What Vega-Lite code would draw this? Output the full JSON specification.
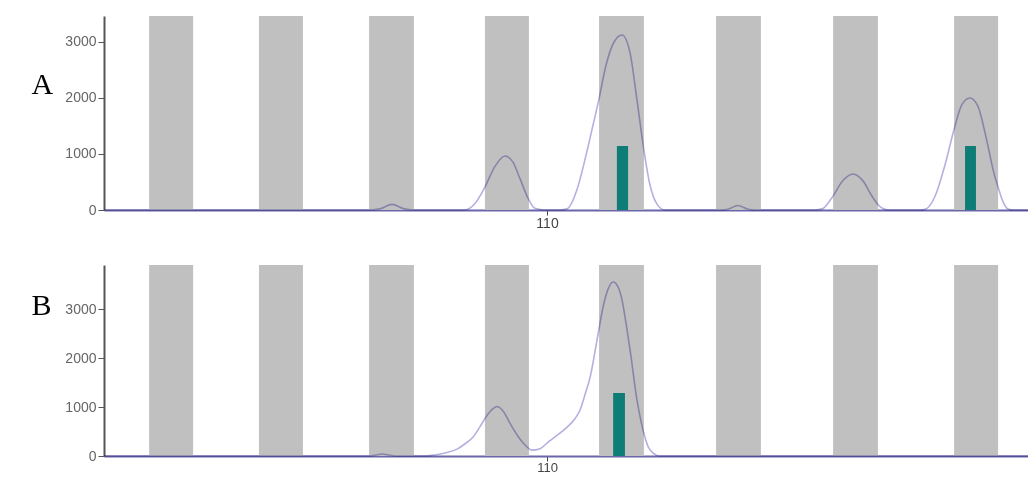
{
  "$schema": "https://vega.github.io/schema/vega-lite/v6.json",
  "padding": {"left": 31, "top": 16, "right": 0, "bottom": 0},
  "background": "white",
  "bounds": "flush",
  "spacing": 55,
  "config": {
    "view": {"stroke": null},
    "axis": {"grid": false, "labelFont": "Liberation Sans", "titleFont": "Liberation Serif"}
  },
  "datasets": {
    "bins": [
      {"start": 96.16, "end": 97.69},
      {"start": 99.98, "end": 101.51},
      {"start": 103.81, "end": 105.37},
      {"start": 107.84, "end": 109.37},
      {"start": 111.81, "end": 113.37},
      {"start": 115.88, "end": 117.44},
      {"start": 119.95, "end": 121.51},
      {"start": 124.16, "end": 125.69}
    ],
    "traceA": [
      {"size": 94.59, "rfu": 0}, {"size": 103.84, "rfu": 0}, {"size": 104.19, "rfu": 20},
      {"size": 104.61, "rfu": 100}, {"size": 105.03, "rfu": 20}, {"size": 105.37, "rfu": 0},
      {"size": 106.97, "rfu": 0}, {"size": 107.22, "rfu": 10}, {"size": 107.5, "rfu": 120},
      {"size": 107.84, "rfu": 410}, {"size": 108.19, "rfu": 780}, {"size": 108.54, "rfu": 965},
      {"size": 108.82, "rfu": 850}, {"size": 109.06, "rfu": 560}, {"size": 109.37, "rfu": 180},
      {"size": 109.58, "rfu": 30}, {"size": 109.93, "rfu": 0}, {"size": 110.45, "rfu": 0},
      {"size": 110.7, "rfu": 20}, {"size": 111.04, "rfu": 360}, {"size": 111.32, "rfu": 900},
      {"size": 111.57, "rfu": 1450}, {"size": 111.81, "rfu": 1990}, {"size": 112.05, "rfu": 2580},
      {"size": 112.33, "rfu": 3000}, {"size": 112.61, "rfu": 3125}, {"size": 112.89, "rfu": 2800},
      {"size": 113.13, "rfu": 1960}, {"size": 113.37, "rfu": 1070}, {"size": 113.58, "rfu": 450},
      {"size": 113.83, "rfu": 100}, {"size": 114.1, "rfu": 0}, {"size": 116.02, "rfu": 0},
      {"size": 116.3, "rfu": 15}, {"size": 116.64, "rfu": 80}, {"size": 116.99, "rfu": 15},
      {"size": 117.27, "rfu": 0}, {"size": 119.32, "rfu": 0}, {"size": 119.57, "rfu": 20},
      {"size": 119.91, "rfu": 220}, {"size": 120.3, "rfu": 530}, {"size": 120.64, "rfu": 643},
      {"size": 120.99, "rfu": 520}, {"size": 121.3, "rfu": 250}, {"size": 121.58, "rfu": 60},
      {"size": 121.86, "rfu": 0}, {"size": 122.97, "rfu": 0}, {"size": 123.18, "rfu": 20},
      {"size": 123.5, "rfu": 250}, {"size": 123.84, "rfu": 800}, {"size": 124.19, "rfu": 1500},
      {"size": 124.43, "rfu": 1880}, {"size": 124.71, "rfu": 2000}, {"size": 124.99, "rfu": 1850},
      {"size": 125.27, "rfu": 1300}, {"size": 125.55, "rfu": 650}, {"size": 125.69, "rfu": 410},
      {"size": 125.86, "rfu": 150}, {"size": 126.03, "rfu": 20}, {"size": 126.24, "rfu": 0},
      {"size": 126.73, "rfu": 0}
    ],
    "traceB": [
      {"size": 94.59, "rfu": 0}, {"size": 103.77, "rfu": 0}, {"size": 104.02, "rfu": 15},
      {"size": 104.26, "rfu": 40}, {"size": 104.54, "rfu": 15}, {"size": 104.82, "rfu": 0},
      {"size": 105.76, "rfu": 0}, {"size": 106.03, "rfu": 15}, {"size": 106.45, "rfu": 60},
      {"size": 106.87, "rfu": 140}, {"size": 107.15, "rfu": 250}, {"size": 107.43, "rfu": 390},
      {"size": 107.67, "rfu": 600}, {"size": 107.88, "rfu": 800}, {"size": 108.09, "rfu": 950},
      {"size": 108.26, "rfu": 1010}, {"size": 108.47, "rfu": 920}, {"size": 108.71, "rfu": 670},
      {"size": 108.96, "rfu": 430}, {"size": 109.17, "rfu": 265}, {"size": 109.48, "rfu": 120},
      {"size": 109.76, "rfu": 150}, {"size": 110.0, "rfu": 265}, {"size": 110.35, "rfu": 420},
      {"size": 110.7, "rfu": 590}, {"size": 110.97, "rfu": 760}, {"size": 111.15, "rfu": 940},
      {"size": 111.32, "rfu": 1250}, {"size": 111.5, "rfu": 1610}, {"size": 111.74, "rfu": 2370},
      {"size": 111.95, "rfu": 3040}, {"size": 112.12, "rfu": 3400}, {"size": 112.3, "rfu": 3550},
      {"size": 112.47, "rfu": 3450}, {"size": 112.61, "rfu": 3180}, {"size": 112.75, "rfu": 2700},
      {"size": 112.89, "rfu": 2160}, {"size": 113.13, "rfu": 1140}, {"size": 113.34, "rfu": 530},
      {"size": 113.51, "rfu": 200}, {"size": 113.69, "rfu": 60}, {"size": 113.93, "rfu": 0},
      {"size": 126.73, "rfu": 0}
    ],
    "peaksA": [
      {"start": 112.43, "end": 112.82, "rfu": 1143},
      {"start": 124.54, "end": 124.92, "rfu": 1143}
    ],
    "peaksB": [
      {"start": 112.3, "end": 112.71, "rfu": 1286}
    ]
  },
  "vconcat": [
    {
      "width": 924,
      "height": 194,
      "layer": [
        {
          "data": {"name": "bins"},
          "mark": {"type": "rect", "color": "#c0c0c0"},
          "encoding": {
            "x": {
              "field": "start", "type": "quantitative",
              "scale": {"domain": [94.59, 126.73], "nice": false, "zero": false},
              "axis": {"values": [110], "format": "d", "title": null, "labelFontSize": 14, "labelColor": "#444", "labelPadding": 1, "domainColor": "#6a66a8", "domainWidth": 2, "tickColor": "#444", "tickSize": 5}
            },
            "x2": {"field": "end"}
          }
        },
        {
          "data": {"name": "traceA"},
          "mark": {"type": "line", "color": "#b4b0e0", "strokeWidth": 1.6, "interpolate": "monotone", "blend": "multiply"},
          "encoding": {
            "x": {"field": "size", "type": "quantitative"},
            "y": {
              "field": "rfu", "type": "quantitative",
              "scale": {"domain": [0, 3464], "nice": false},
              "axis": {"values": [0, 1000, 2000, 3000], "format": "d", "title": "A", "titleAngle": 0, "titleFontSize": 30, "titleFontWeight": "normal", "titleColor": "#000", "titleAlign": "left", "titleBaseline": "alphabetic", "titleX": -73, "titleY": 77, "labelFontSize": 14, "labelColor": "#666", "labelPadding": 2, "domainColor": "#555", "domainWidth": 2, "tickColor": "#555", "tickSize": 6}
            }
          }
        },
        {
          "data": {"name": "peaksA"},
          "mark": {"type": "rect", "color": "#0d7d75"},
          "encoding": {
            "x": {"field": "start", "type": "quantitative"},
            "x2": {"field": "end"},
            "y": {"field": "rfu", "type": "quantitative"},
            "y2": {"datum": 0}
          }
        }
      ]
    },
    {
      "width": 924,
      "height": 191,
      "layer": [
        {
          "data": {"name": "bins"},
          "mark": {"type": "rect", "color": "#c0c0c0"},
          "encoding": {
            "x": {
              "field": "start", "type": "quantitative",
              "scale": {"domain": [94.59, 126.73], "nice": false, "zero": false},
              "axis": {"values": [110], "format": "d", "title": null, "labelFontSize": 13, "labelColor": "#444", "labelPadding": 0, "domainColor": "#6a66a8", "domainWidth": 2, "tickColor": "#444", "tickSize": 5}
            },
            "x2": {"field": "end"}
          }
        },
        {
          "data": {"name": "traceB"},
          "mark": {"type": "line", "color": "#b4b0e0", "strokeWidth": 1.6, "interpolate": "monotone", "blend": "multiply"},
          "encoding": {
            "x": {"field": "size", "type": "quantitative"},
            "y": {
              "field": "rfu", "type": "quantitative",
              "scale": {"domain": [0, 3898], "nice": false},
              "axis": {"values": [0, 1000, 2000, 3000], "format": "d", "title": "B", "titleAngle": 0, "titleFontSize": 30, "titleFontWeight": "normal", "titleColor": "#000", "titleAlign": "left", "titleBaseline": "alphabetic", "titleX": -73, "titleY": 49, "labelFontSize": 14, "labelColor": "#666", "labelPadding": 2, "domainColor": "#555", "domainWidth": 2, "tickColor": "#555", "tickSize": 6}
            }
          }
        },
        {
          "data": {"name": "peaksB"},
          "mark": {"type": "rect", "color": "#0d7d75"},
          "encoding": {
            "x": {"field": "start", "type": "quantitative"},
            "x2": {"field": "end"},
            "y": {"field": "rfu", "type": "quantitative"},
            "y2": {"datum": 0}
          }
        }
      ]
    }
  ]
}
